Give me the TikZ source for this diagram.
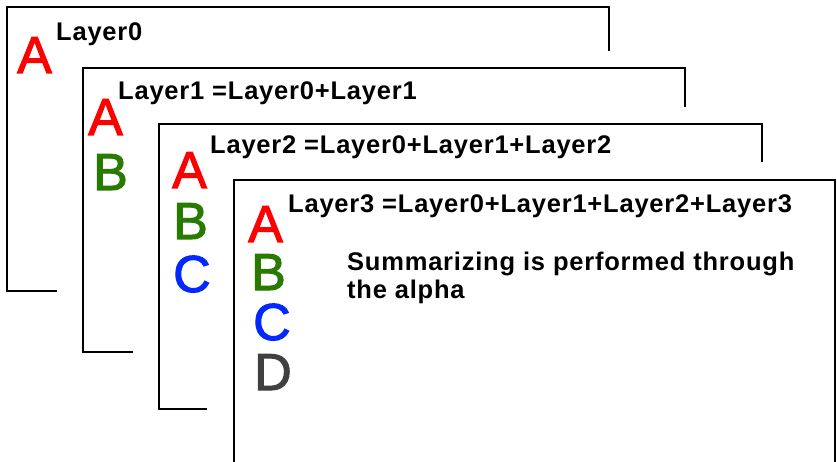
\documentclass[tikz,border=0pt]{standalone}
\usepackage{fontspec}
\setmainfont{Liberation Sans}
\newfontfamily\letterfont[FakeBold=2]{Liberation Sans}
\newfontfamily\titlefont[LetterSpace=3.1]{Liberation Sans Bold}
\definecolor{letterA}{RGB}{255,0,0}
\definecolor{letterB}{RGB}{40,122,0}
\definecolor{letterC}{RGB}{0,40,255}
\definecolor{letterD}{RGB}{64,64,64}
\begin{document}
\begin{tikzpicture}[x=1pt,y=-1pt,
  sheet/.style={draw=black,line width=2.6pt,line cap=butt,line join=miter},
  title/.style={anchor=base west,inner sep=0pt,font=\titlefont\fontsize{25.5}{28}\selectfont},
  letter/.style={anchor=base west,inner sep=0pt,font=\letterfont\fontsize{52}{52}\selectfont}]
\useasboundingbox (0,0) rectangle (837,462);
\fill[white] (0,0) rectangle (837,462);

% sheet outlines, back to front
\draw[sheet] (57,291) -- (7,291) -- (7,7) -- (609,7) -- (609,51);
\draw[sheet] (133,352) -- (83,352) -- (83,68) -- (685,68) -- (685,107);
\draw[sheet] (207,409) -- (159,409) -- (159,124) -- (762,124) -- (762,162);
\draw[sheet] (234,462) -- (234,180) -- (835,180) -- (835,462);

% sheet 0
\node[title] (t0) at (56,41) {Layer0};
\node[letter,text=letterA] (a0) at (17,73) {A};

% sheet 1
\node[title] (t1) at (118,100) {Layer1 =Layer0+Layer1};
\node[letter,text=letterA] (a1) at (88,135) {A};
\node[letter,text=letterB] (b1) at (93,190) {B};

% sheet 2
\node[title] (t2) at (210,154) {Layer2 =Layer0+Layer1+Layer2};
\node[letter,text=letterA] (a2) at (172,188) {A};
\node[letter,text=letterB] (b2) at (173,239) {B};
\node[letter,text=letterC] (c2) at (173,292) {C};

% sheet 3
\node[title] (t3) at (288,213) {Layer3 =Layer0+Layer1+Layer2+Layer3};
\node[letter,text=letterA] (a3) at (248,242) {A};
\node[letter,text=letterB] (b3) at (251,290) {B};
\node[letter,text=letterC] (c3) at (253,340) {C};
\node[letter,text=letterD] (d3) at (254,390) {D};
\node[title] (s1) at (347,270) {Summarizing is performed through};
\node[title] (s2) at (347,298) {the alpha};
\end{tikzpicture}
\end{document}
